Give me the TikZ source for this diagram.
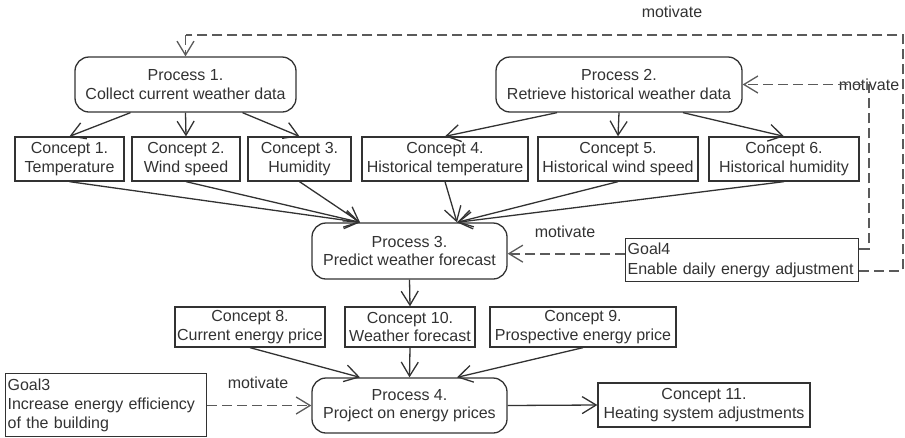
\documentclass[tikz,border=0pt]{standalone}
\usepackage{fontspec}
\setmainfont{Liberation Sans}
\usetikzlibrary{arrows.meta}
\definecolor{inkc}{RGB}{50,50,50}
\definecolor{dashc}{RGB}{90,90,90}
\begin{document}
\begin{tikzpicture}[x=1pt,y=-1pt,
  font=\fontsize{16}{18.5}\selectfont,
  every node/.style={text=inkc},
  proc/.style={draw=inkc, line width=1.3pt, rounded corners=14pt, align=center, inner sep=0pt},
  conc/.style={draw=inkc, line width=1.3pt, align=center, inner sep=0pt},
  goalbox/.style={draw=inkc, line width=1.3pt, align=left, inner xsep=2pt, inner ysep=0pt, anchor=north west},
  arr/.style={draw=inkc, line width=1.3pt, -{Straight Barb[length=14pt,width=17pt]}},
  dsh/.style={draw=dashc, line width=1.8pt, dash pattern=on 10pt off 5pt},
  dsharr/.style={dsh, -{Straight Barb[length=14pt,width=17pt,line width=1.3pt]}},
  lbl/.style={inner sep=0pt}
]
\useasboundingbox (0,0) rectangle (905,437);

% processes
\node[proc, minimum width=221pt, minimum height=55pt] (P1) at (185.5,84.5) {Process 1.\\Collect current weather data};
\node[proc, minimum width=246pt, minimum height=55pt] (P2) at (619,84.5) {Process 2.\\Retrieve historical weather data};
\node[proc, minimum width=195pt, minimum height=56pt] (P3) at (409.5,251) {Process 3.\\Predict weather forecast};
\node[proc, minimum width=195pt, minimum height=55pt] (P4) at (409.5,405.5) {Process 4.\\Project on energy prices};

% concepts
\node[conc, minimum width=109pt, minimum height=44pt] (C1) at (69.5,159) {Concept 1.\\Temperature};
\node[conc, minimum width=108pt, minimum height=44pt] (C2) at (186,159) {Concept 2.\\Wind speed};
\node[conc, minimum width=103pt, minimum height=44pt] (C3) at (299.5,159) {Concept 3.\\Humidity};
\node[conc, minimum width=166pt, minimum height=44pt] (C4) at (445,159) {Concept 4.\\Historical temperature};
\node[conc, minimum width=160pt, minimum height=44pt] (C5) at (618,159) {Concept 5.\\Historical wind speed};
\node[conc, minimum width=150pt, minimum height=44pt] (C6) at (784,159) {Concept 6.\\Historical humidity};
\node[conc, minimum width=150pt, minimum height=40pt] (C8) at (250,327) {Concept 8.\\Current energy price};
\node[conc, minimum width=130pt, minimum height=40pt] (C10) at (410,327) {Concept 10.\\Weather forecast};
\node[conc, minimum width=186pt, minimum height=40pt] (C9) at (583,327) {Concept 9.\\Prospective energy price};
\node[conc, minimum width=212pt, minimum height=44pt] (C11) at (704,405) {Concept 11.\\Heating system adjustments};

% goals
\node[goalbox, text width=229pt, minimum height=43pt, font=\fontsize{16}{20}\selectfont] (G4) at (625,238) {Goal4\\Enable daily energy adjustment};
\node[goalbox, text width=197pt, minimum height=63pt, font=\fontsize{16}{19}\selectfont] (G3) at (5,373) {Goal3\\Increase energy efficiency\\of the building};

% labels
\node[lbl] (m1) at (672,12) {motivate};
\node[lbl] (m2) at (869,85) {motivate};
\node[lbl] (m3) at (565,232) {motivate};
\node[lbl] (m4) at (258,383) {motivate};

% process 1 -> concepts
\draw[arr] ([xshift=-55pt]P1.south) -- (C1.north);
\draw[arr] (P1.south) -- (C2.north);
\draw[arr] ([xshift=57pt]P1.south) -- (C3.north);
% process 2 -> concepts
\draw[arr] ([xshift=-62pt]P2.south) -- (C4.north);
\draw[arr] (P2.south) -- (C5.north);
\draw[arr] ([xshift=64pt]P2.south) -- (C6.north);
% concepts -> process 3
\draw[arr] (C1.south) -- ([xshift=-49.5pt]P3.north);
\draw[arr] (C2.south) -- ([xshift=-49.5pt]P3.north);
\draw[arr] (C3.south) -- ([xshift=-49.5pt]P3.north);
\draw[arr] (C4.south) -- ([xshift=47.5pt]P3.north);
\draw[arr] (C5.south) -- ([xshift=47.5pt]P3.north);
\draw[arr] (C6.south) -- ([xshift=47.5pt]P3.north);
% process 3 -> concept 10
\draw[arr] (P3.south) -- (C10.north);
% concepts -> process 4
\draw[arr] (C8.south) -- ([xshift=-49.5pt]P4.north);
\draw[arr] (C10.south) -- (P4.north);
\draw[arr] (C9.south) -- ([xshift=47.5pt]P4.north);
% process 4 -> concept 11
\draw[arr] (P4.east) -- (C11.west);

% motivate links
\coordinate (tr) at (903,35);
\coordinate (tl) at (185.5,35);
\coordinate (ir) at (869,84.5);
\draw[dsharr] ([yshift=6.5pt]G4.west) -- ([yshift=6.5pt]G4.west -| P3.east);
\draw[dsharr] ([yshift=11.5pt]G4.east) -| (ir) -- (P2.east);
\draw[dsh] ([yshift=-10.5pt]G4.east) -| (tr) -- (tl);
\draw[dsharr] (tl) -- (P1.north);
\draw[dsharr] (G3.east |- P4.west) -- (P4.west);
\end{tikzpicture}
\end{document}
